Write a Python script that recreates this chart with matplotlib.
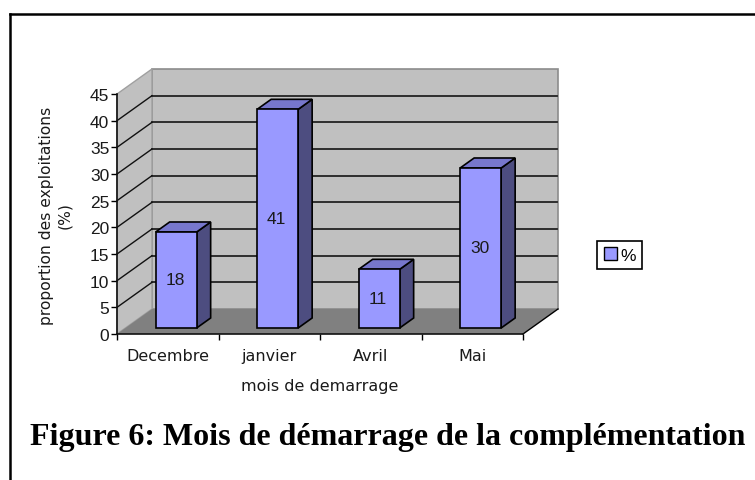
import matplotlib
matplotlib.use('Agg')
import matplotlib.pyplot as plt
from matplotlib.patches import Polygon, Patch
from matplotlib.lines import Line2D

months = ['Decembre', 'janvier', 'Avril', 'Mai']
values = [18, 41, 11, 30]
yticks = [0, 5, 10, 15, 20, 25, 30, 35, 40, 45]
series_name = '%'
x_title = 'mois de demarrage'
y_title = 'proportion des exploitations\n(%)'
caption = 'Figure 6: Mois de démarrage de la complémentation'

W, H = 755, 481
# depth of the fake 3D box, in axis units (1 category = 101.5 px, 1 unit = 5.33 px)
DX = 35 / 101.5
DY = 25 / 5.33
BAR_W = 0.404
BAR_FRONT = 0.24  # where the front of a bar sits in the depth
BAR_DEPTH = 0.40
TEXT = '#1a1a1a'

plt.rcParams['font.family'] = ['Liberation Sans', 'DejaVu Sans']

fig = plt.figure(figsize=(W / 100, H / 100), dpi=100)
ax = fig.add_axes([117 / W, 1 - 335 / H, 406 / W, 240 / H])
ax.set_xlim(0, len(months))
ax.set_ylim(0, 45)
ax.patch.set_visible(False)


def poly(pts, color, edge='none', lw=0, z=1):
    ax.add_patch(Polygon(pts, closed=True, facecolor=color, edgecolor=edge, linewidth=lw, zorder=z, clip_on=False))


n = len(months)
top = yticks[-1]
# walls and floor
poly([(DX, DY), (n + DX, DY), (n + DX, top + DY), (DX, top + DY)], '#c0c0c0', '#8c8c8c', 1.2)
poly([(0, 0), (DX, DY), (DX, top + DY), (0, top)], '#c0c0c0', '#a0a0a0', 1.0)
poly([(0, 0), (n, 0), (n + DX, DY), (DX, DY)], '#808080')

# gridlines, back wall then left wall
for v in yticks[1:-1]:
    ax.plot([DX, n + DX - 0.01], [v + DY, v + DY], color='#222222', lw=1.3, zorder=2, clip_on=False)
    ax.plot([0, DX], [v, v + DY], color='#111111', lw=1.0, zorder=2, clip_on=False)
ax.plot([n, n + DX], [0, DY], color='black', lw=1.0, zorder=2, clip_on=False)

# bars
xs = [i + 0.5 + BAR_FRONT * DX for i in range(n)]
base = BAR_FRONT * DY
ddx, ddy = BAR_DEPTH * DX, BAR_DEPTH * DY
ax.bar(xs, values, BAR_W, bottom=base, color='#9999ff', edgecolor='black', linewidth=1.2, zorder=5)
for x, v in zip(xs, values):
    l, r, t = x - BAR_W / 2, x + BAR_W / 2, v + base
    poly([(r, base), (r + ddx, base + ddy), (r + ddx, t + ddy), (r, t)], '#4d4d80', 'black', 1.2, 4)
    poly([(l, t), (r, t), (r + ddx, t + ddy), (l + ddx, t + ddy)], '#7777cc', 'black', 1.2, 4)
    ax.text(x - 0.01, base + v / 2, str(v), ha='center', va='center', fontsize=12.5, color=TEXT, zorder=6)

# axes
for s in ['top', 'right']:
    ax.spines[s].set_visible(False)
for s in ['left', 'bottom']:
    ax.spines[s].set_linewidth(1.2)
    ax.spines[s].set_color('#111111')
    ax.spines[s].set_zorder(7)
ax.set_yticks(yticks)
ax.set_xticks(range(n + 1))
ax.set_xticklabels([])
ax.tick_params(axis='y', length=4, width=1.0, labelsize=12.5, pad=1.5, labelcolor=TEXT)
ax.tick_params(axis='x', length=4, width=1.0)

# the original labels are wide and loosely spaced, DejaVu is the closest fit
for i, m in enumerate(months):
    fig.text((117 + 101.5 * (i + 0.5)) / W, 1 - 357 / H, m, ha='center', va='center', fontsize=11.5,
             family=['DejaVu Sans'], color=TEXT)

fig.text(320 / W, 1 - 387 / H, x_title, ha='center', va='center', fontsize=11.5, family=['DejaVu Sans'], color=TEXT)
fig.text(56 / W, 1 - 216 / H, y_title, ha='center', va='center', rotation=90, fontsize=11.2, family=['DejaVu Sans'],
         color=TEXT, multialignment='center', linespacing=1.25)

leg = fig.legend(handles=[Patch(facecolor='#9999ff', edgecolor='black', linewidth=1.0, label=series_name)],
                 loc='center', bbox_to_anchor=(619.5 / W, 1 - 256 / H), fontsize=12.5, fancybox=False,
                 framealpha=1, edgecolor='black', handlelength=0.75, handleheight=0.75, handletextpad=0.2,
                 borderpad=0.35, borderaxespad=0)
leg.get_frame().set_linewidth(1.2)

# page frame around the figure
fig.add_artist(Line2D([10 / W, 10 / W], [0, 1 - 14.5 / H], color='black', lw=1.8))
fig.add_artist(Line2D([10 / W, 1], [1 - 14.5 / H, 1 - 14.5 / H], color='black', lw=1.8))

fig.text(30 / W, 1 - 445 / H, caption, ha='left', va='baseline', fontsize=23, fontweight='bold',
         family=['Liberation Serif'], color='black')

fig.savefig('out.png', dpi=100)
